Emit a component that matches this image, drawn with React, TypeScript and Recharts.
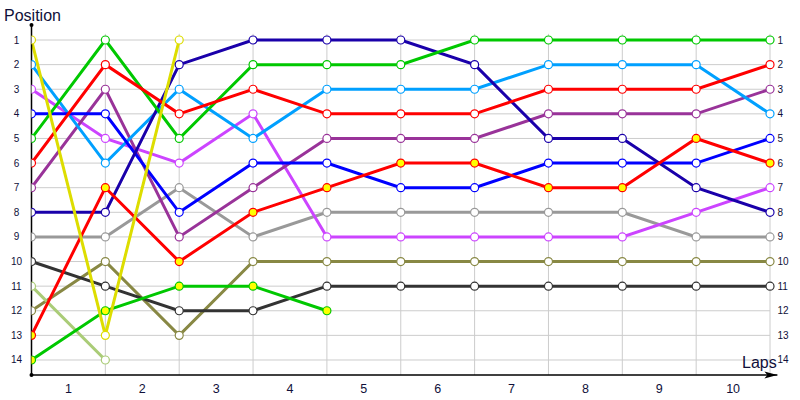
import { LineChart, Line, XAxis, YAxis, ReferenceLine, ReferenceDot } from 'recharts'

// lap boundaries (0 = start) and finishing positions per driver
const laps = [0, 1, 2, 3, 4, 5, 6, 7, 8, 9, 10]
const lapTicks = [0.5, 1.5, 2.5, 3.5, 4.5, 5.5, 6.5, 7.5, 8.5, 9.5]
const lapLabels = ['1', '2', '3', '4', '5', '6', '7', '8', '9', '10']
const positions = [1, 2, 3, 4, 5, 6, 7, 8, 9, 10, 11, 12, 13, 14]

const grayPos = [9, 9, 7, 9, 8, 8, 8, 8, 8, 9, 9]
const olivePos = [12, 10, 13, 10, 10, 10, 10, 10, 10, 10, 10]
const darkPos = [10, 11, 12, 12, 11, 11, 11, 11, 11, 11, 11]
const palePos = [11, 14, null, null, null, null, null, null, null, null, null]
const violetPos = [3, 5, 6, 4, 9, 9, 9, 9, 9, 8, 7]
const purplePos = [7, 3, 9, 7, 5, 5, 5, 4, 4, 4, 3]
const skyPos = [2, 6, 3, 5, 3, 3, 3, 2, 2, 2, 4]
const bluePos = [4, 4, 8, 6, 6, 7, 7, 6, 6, 6, 5]
const navyPos = [8, 8, 2, 1, 1, 1, 2, 5, 5, 7, 8]
const greenPos = [5, 1, 5, 2, 2, 2, 1, 1, 1, 1, 1]
const redPos = [6, 2, 4, 3, 4, 4, 4, 3, 3, 3, 2]
const green2Pos = [14, 12, 11, 11, 12, null, null, null, null, null, null]
const red2Pos = [13, 7, 10, 8, 7, 6, 6, 7, 7, 5, 6]
const yellowPos = [1, 13, 1, null, null, null, null, null, null, null, null]

const series = [
  { key: 'gray', values: grayPos, color: '#999999', fill: '#ffffff' },
  { key: 'olive', values: olivePos, color: '#888844', fill: '#ffffff' },
  { key: 'dark', values: darkPos, color: '#333333', fill: '#ffffff' },
  { key: 'pale', values: palePos, color: '#aacc77', fill: '#ffffff' },
  { key: 'violet', values: violetPos, color: '#cc44ff', fill: '#ffffff' },
  { key: 'purple', values: purplePos, color: '#993399', fill: '#ffffff' },
  { key: 'sky', values: skyPos, color: '#00a0ff', fill: '#ffffff' },
  { key: 'blue', values: bluePos, color: '#0000ff', fill: '#ffffff' },
  { key: 'navy', values: navyPos, color: '#1a00aa', fill: '#ffffff' },
  { key: 'green', values: greenPos, color: '#00c800', fill: '#ffffff' },
  { key: 'red', values: redPos, color: '#ff0000', fill: '#ffffff' },
  { key: 'green2', values: green2Pos, color: '#00c800', fill: '#ffff00' },
  { key: 'red2', values: red2Pos, color: '#ff0000', fill: '#ffff00' },
  { key: 'yellow', values: yellowPos, color: '#dddd00', fill: '#ffffff' },
]

const data = laps.map((lap, i) => {
  const row: Record<string, number | null> = { lap }
  series.forEach((s) => { row[s.key] = s.values[i] })
  return row
})

const textColor = '#10103a'
const font = '"Liberation Sans", Arial, sans-serif'
const Y_TOP = 0.39
const Y_BOTTOM = 14.61

const LeftTick = (props: any) => (
  <text x={props.x - 15} y={props.y + 3.5} textAnchor="middle" fontSize={10} fontFamily={font} fill={textColor}>
    {props.payload.value}
  </text>
)

const RightTick = (props: any) => (
  <text x={props.x} y={props.y + 3.5} textAnchor="start" fontSize={10} fontFamily={font} fill={textColor}>
    {props.payload.value}
  </text>
)

const LapTick = (props: any) => (
  <text x={props.x} y={props.y + 17.5} textAnchor="middle" fontSize={12.5} fontFamily={font} fill={textColor}>
    {lapLabels[lapTicks.indexOf(props.payload.value)]}
  </text>
)

const Arrow = (props: any) => (
  <path
    d={`M${props.cx},${props.cy} L${props.cx - 13},${props.cy - 3.5} L${props.cx - 10},${props.cy} L${props.cx - 13},${props.cy + 3.5} Z`}
    fill="#000"
  />
)

export default function App() {
  return (
    <div style={{ position: 'relative', width: 800, height: 400, background: '#fff' }}>
      <style>{'body{margin:0}'}</style>
      <LineChart width={800} height={400} data={data} margin={{ top: 25, right: 0, bottom: 0, left: 0 }}>
        <XAxis
          dataKey="lap"
          type="number"
          domain={[0, 10.1]}
          allowDataOverflow
          ticks={lapTicks}
          tick={<LapTick />}
          tickLine={false}
          tickSize={0}
          tickMargin={0}
          height={25}
          axisLine={{ stroke: '#000', strokeWidth: 1.5 }}
        />
        <YAxis
          yAxisId="left"
          type="number"
          domain={[Y_TOP, Y_BOTTOM]}
          reversed
          allowDataOverflow
          ticks={positions}
          tick={<LeftTick />}
          tickLine={false}
          tickSize={0}
          tickMargin={0}
          width={31.5}
          axisLine={{ stroke: '#000', strokeWidth: 1.5 }}
        />
        <YAxis
          yAxisId="right"
          orientation="right"
          type="number"
          domain={[Y_TOP, Y_BOTTOM]}
          reversed
          allowDataOverflow
          ticks={positions}
          tick={<RightTick />}
          tickLine={false}
          tickSize={0}
          tickMargin={0}
          width={22.6}
          axisLine={false}
        />
        {positions.map((p) => (
          <ReferenceLine
            key={'h' + p}
            yAxisId="left"
            segment={[{ x: 0, y: p }, { x: 10, y: p }]}
            stroke="#cccccc"
            strokeWidth={1}
            ifOverflow="visible"
          />
        ))}
        {laps.slice(1).map((l) => (
          <ReferenceLine
            key={'v' + l}
            yAxisId="left"
            segment={[{ x: l, y: 0.75 }, { x: l, y: Y_BOTTOM }]}
            stroke="#cccccc"
            strokeWidth={1}
            ifOverflow="visible"
          />
        ))}
        {series.map((s) => (
          <Line
            key={s.key}
            yAxisId="left"
            type="linear"
            dataKey={s.key}
            stroke={s.color}
            strokeWidth={3}
            dot={{ r: 4, fill: s.fill, stroke: s.color, strokeWidth: 1.2 }}
            activeDot={false}
            isAnimationActive={false}
          />
        ))}
        <ReferenceDot yAxisId="left" x={0} y={Y_TOP} r={2} fill="#000" stroke="none" ifOverflow="visible" />
        <ReferenceDot yAxisId="left" x={0} y={Y_BOTTOM} r={2} fill="#000" stroke="none" ifOverflow="visible" />
        <ReferenceDot yAxisId="left" x={10.1} y={Y_BOTTOM} r={1} shape={<Arrow />} ifOverflow="visible" />
      </LineChart>
      <svg width={800} height={400} style={{ position: 'absolute', left: 0, top: 0, pointerEvents: 'none' }}>
        <text x={4} y={20.5} fontSize={16} fontFamily={font} fill={textColor}>Position</text>
        <text x={742} y={368} fontSize={16} fontFamily={font} fill={textColor}>Laps</text>
      </svg>
    </div>
  )
}
